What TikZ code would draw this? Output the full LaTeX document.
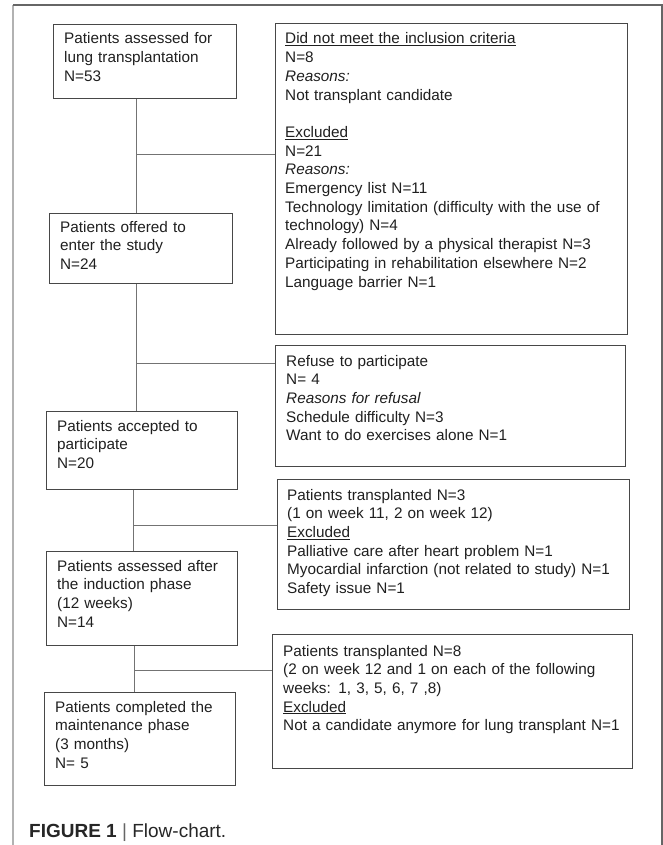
\documentclass[tikz,border=0pt]{standalone}
\usepackage{fontspec}
\setmainfont{Liberation Sans}
\begin{document}
\begin{tikzpicture}[x=1pt,y=-1pt,
  box/.style={draw=black!72, line width=1pt, inner sep=0pt, anchor=north west},
  txt/.style={anchor=base west, inner sep=0pt, align=left, text width=360pt,
    font=\fontsize{15.3}{18.7}\selectfont, text=black!88},
  link/.style={draw=black!55, line width=1pt},
  frame/.style={line width=1.2pt}]
\useasboundingbox (0,0) rectangle (663,845);
% outer frame
\draw[frame, draw=black!30] (13,845) -- (13,5);
\draw[frame, draw=black!60] (13,5) -- (662,5) -- (662,845);
% left column boxes
\node[box, minimum width=183pt, minimum height=74pt] (A) at (53,24) {};
\node[box, minimum width=183pt, minimum height=70pt] (B) at (49,213) {};
\node[box, minimum width=191pt, minimum height=78pt] (C) at (46,411) {};
\node[box, minimum width=191pt, minimum height=94pt] (D) at (46,551) {};
\node[box, minimum width=191pt, minimum height=93pt] (E) at (44,692) {};
% right column boxes
\node[box, minimum width=352pt, minimum height=311pt] (R1) at (275,23) {};
\node[box, minimum width=350pt, minimum height=121pt] (R2) at (275,345) {};
\node[box, minimum width=352pt, minimum height=130pt] (R3) at (277,479) {};
\node[box, minimum width=360pt, minimum height=134pt] (R4) at (272,634) {};
% texts
\node[txt] (At) at (64,44) {Patients assessed for\\lung transplantation\\N=53};
\node[txt] (Bt) at (60,232) {Patients offered to\\enter the study\\N=24};
\node[txt] (Ct) at (57,431) {Patients accepted to\\participate\\N=20};
\node[txt] (Dt) at (57,571) {Patients assessed after\\the induction phase\\(12 weeks)\\N=14};
\node[txt] (Et) at (55,712) {Patients completed the\\maintenance phase\\(3 months)\\N= 5};
\node[txt] (R1t) at (285,44) {\underline{Did not meet the inclusion criteria}\\N=8\\\textit{Reasons:}\\Not transplant candidate\\[18.7pt]\underline{Excluded}\\N=21\\\textit{Reasons:}\\Emergency list N=11\\Technology limitation (difficulty with the use of\\technology) N=4\\Already followed by a physical therapist N=3\\Participating in rehabilitation elsewhere N=2\\Language barrier N=1};
\node[txt] (R2t) at (286,366) {Refuse to participate\\N= 4\\\textit{Reasons for refusal}\\Schedule difficulty N=3\\Want to do exercises alone N=1};
\node[txt] (R3t) at (287,500) {Patients transplanted N=3\\(1 on week 11, 2 on week 12)\\\underline{Excluded}\\Palliative care after heart problem N=1\\Myocardial infarction (not related to study) N=1\\Safety issue N=1};
\node[txt] (R4t) at (283,656) {Patients transplanted N=8\\(2 on week 12 and 1 on each of the following\\weeks: 1, 3, 5, 6, 7 ,8)\\\underline{Excluded}\\Not a candidate anymore for lung transplant N=1};
% connectors
\coordinate (j1) at (136,155);
\coordinate (j2) at (136,363);
\coordinate (j3) at (133,525);
\coordinate (j4) at (134,670);
\draw[link] (j1 |- A.south) -- (j1 |- B.north);
\draw[link] (j1) -- (j1 -| R1.west);
\draw[link] (j2 |- B.south) -- (j2 |- C.north);
\draw[link] (j2) -- (j2 -| R2.west);
\draw[link] (j3 |- C.south) -- (j3 |- D.north);
\draw[link] (j3) -- (j3 -| R3.west);
\draw[link] (j4 |- D.south) -- (j4 |- E.north);
\draw[link] (j4) -- (j4 -| R4.west);
% caption
\node[anchor=base west, inner sep=0pt, font=\fontsize{19}{22}\selectfont, text=black!85] (cap) at (29,837) {\textbf{FIGURE 1} {\color{black!60}|} Flow-chart.};
\end{tikzpicture}
\end{document}
